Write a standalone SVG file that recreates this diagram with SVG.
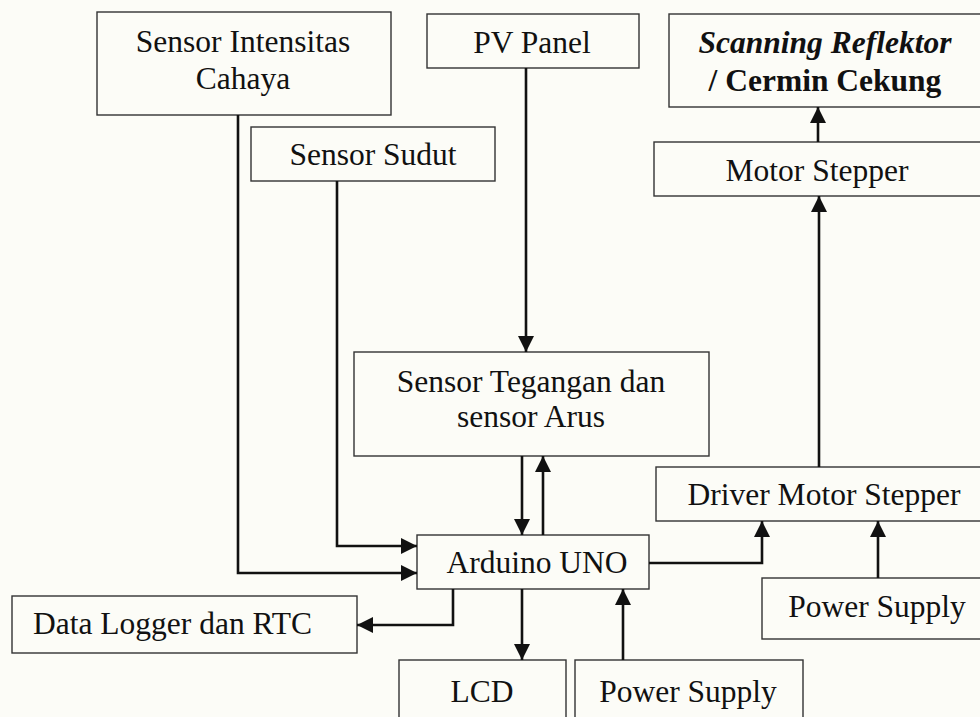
<svg xmlns="http://www.w3.org/2000/svg" width="980" height="717" viewBox="0 0 980 717">
<defs>
<style>
.box{fill:none;stroke:#333;stroke-width:1.4}
.t{font-family:"Liberation Serif","Times New Roman",serif;font-size:31.5px;fill:#111;text-anchor:middle}
.c{fill:none;stroke:#111;stroke-width:2.6}
</style>
<marker id="ah" markerUnits="userSpaceOnUse" markerWidth="18" markerHeight="16" refX="16" refY="8" orient="auto">
<path d="M0,0 L16,8 L0,16 z" fill="#111"/>
</marker>
</defs>
<rect width="980" height="717" fill="#fcfcf7"/>
<g id="sensor-intensitas">
<rect class="box" x="97" y="12" width="294" height="103"/>
<text class="t" x="243" y="52">Sensor Intensitas</text>
<text class="t" x="243" y="89">Cahaya</text>
</g>
<g id="pv-panel">
<rect class="box" x="427" y="14" width="212" height="54"/>
<text class="t" x="532" y="53">PV Panel</text>
</g>
<g id="scanning-reflektor">
<rect class="box" x="669" y="14" width="320" height="93"/>
<text class="t" x="825" y="53" font-weight="bold" font-style="italic">Scanning Reflektor</text>
<text class="t" x="825" y="91" font-weight="bold">/ Cermin Cekung</text>
</g>
<g id="sensor-sudut">
<rect class="box" x="251" y="127" width="244" height="54"/>
<text class="t" x="373" y="165">Sensor Sudut</text>
</g>
<g id="motor-stepper">
<rect class="box" x="654" y="142" width="335" height="54"/>
<text class="t" x="817" y="181">Motor Stepper</text>
</g>
<g id="sensor-tegangan">
<rect class="box" x="354" y="352" width="355" height="104"/>
<text class="t" x="531" y="392">Sensor Tegangan dan</text>
<text class="t" x="531" y="427">sensor Arus</text>
</g>
<g id="driver-motor">
<rect class="box" x="656" y="467" width="333" height="54"/>
<text class="t" x="824" y="505">Driver Motor Stepper</text>
</g>
<g id="arduino">
<rect class="box" x="417" y="535" width="232" height="54"/>
<text class="t" x="537" y="573">Arduino UNO</text>
</g>
<g id="power-supply-right">
<rect class="box" x="762" y="578" width="227" height="61"/>
<text class="t" x="877" y="617">Power Supply</text>
</g>
<g id="data-logger">
<rect class="box" x="12" y="596" width="345" height="57"/>
<text class="t" x="33" y="634" style="text-anchor:start">Data Logger dan RTC</text>
</g>
<g id="lcd">
<rect class="box" x="399" y="660" width="167" height="70"/>
<text class="t" x="482" y="702">LCD</text>
</g>
<g id="power-supply-bottom">
<rect class="box" x="575" y="660" width="228" height="70"/>
<text class="t" x="688" y="702">Power Supply</text>
</g>
<g id="connectors">
<path class="c" d="M526 68 V352" marker-end="url(#ah)"/>
<path class="c" d="M522 456 V535" marker-end="url(#ah)"/>
<path class="c" d="M543 535 V456" marker-end="url(#ah)"/>
<path class="c" d="M238 115 V573 H417" marker-end="url(#ah)"/>
<path class="c" d="M337 181 V546 H417" marker-end="url(#ah)"/>
<path class="c" d="M453 589 V625 H357" marker-end="url(#ah)"/>
<path class="c" d="M522 589 V660" marker-end="url(#ah)"/>
<path class="c" d="M623 660 V589" marker-end="url(#ah)"/>
<path class="c" d="M649 563 H762 V521" marker-end="url(#ah)"/>
<path class="c" d="M878 578 V521" marker-end="url(#ah)"/>
<path class="c" d="M819 467 V196" marker-end="url(#ah)"/>
<path class="c" d="M818 142 V107" marker-end="url(#ah)"/>
</g>
</svg>
